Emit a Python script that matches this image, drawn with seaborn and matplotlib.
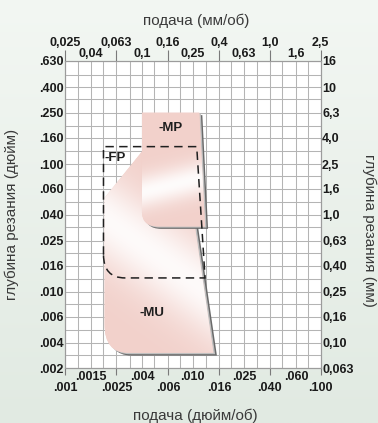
import numpy as np
import matplotlib
matplotlib.use("Agg")
import matplotlib.pyplot as plt
import matplotlib.transforms as mtransforms
import seaborn as sns
from matplotlib.path import Path
from matplotlib.patches import PathPatch
from matplotlib.colors import to_rgb, LinearSegmentedColormap

# ---- scales: feed (mm/rev) and depth of cut (mm), R5 series with inch equivalents ----
feed_mm = [0.025, 0.04, 0.063, 0.1, 0.16, 0.25, 0.4, 0.63, 1.0, 1.6, 2.5]
feed_mm_labels = ["0,025", "0,04", "0,063", "0,1", "0,16", "0,25", "0,4", "0,63", "1,0", "1,6", "2,5"]
feed_in_labels = [".001", ".0015", ".0025", ".004", ".006", ".010", ".016", ".025", ".040", ".060", ".100"]
feed_grid = [0.025, 0.0315, 0.04, 0.05, 0.063, 0.08, 0.1, 0.125, 0.16, 0.2, 0.25, 0.315,
             0.4, 0.5, 0.63, 0.8, 1.0, 1.25, 1.6, 2.0, 2.5]

depth_mm = [0.063, 0.1, 0.16, 0.25, 0.4, 0.63, 1.0, 1.6, 2.5, 4.0, 6.3, 10, 16]
depth_mm_labels = ["0,063", "0,10", "0,16", "0,25", "0,40", "0,63", "1,0", "1,6", "2,5", "4,0", "6,3", "10", "16"]
depth_in_labels = [".002", ".004", ".006", ".010", ".016", ".025", ".040", ".060", ".100", ".160", ".250", ".400", ".630"]
depth_grid = [0.063, 0.08, 0.1, 0.125, 0.16, 0.2, 0.25, 0.315, 0.4, 0.5, 0.63, 0.8, 1.0, 1.25,
              1.6, 2.0, 2.5, 3.15, 4.0, 5.0, 6.3, 8.0, 10, 12.5, 16]

# ---- chipbreaker application areas (feed mm/rev, depth mm) ----
# -MU: outline with rounded lower-left corner
mu_feed = [0.051, 0.1, 0.213, 0.362, 0.0778, 0.051, 0.051]
mu_depth = [1.36, 3.13, 3.13, 0.0833, 0.0833, 0.0833, 0.1386]
# -MP: outline with rounded lower-left corner
mp_feed = [0.1, 0.281, 0.3115, 0.1336, 0.1, 0.1]
mp_depth = [6.3, 6.3, 0.812, 0.812, 0.812, 1.064]
# -FP: dashed outline with rounded lower-left corner
fp_feed = [0.05, 0.05, 0.268, 0.3115, 0.0737, 0.05, 0.05]
fp_depth = [0.488, 3.42, 3.42, 0.321, 0.321, 0.321, 0.488]

area_names = ["-MP", "-FP", "-MU"]
label_feed = [0.169, 0.0615, 0.1205]
label_depth = [4.82, 2.78, 0.171]

sns.set_theme(style="white")
plt.rcParams["font.family"] = ["Liberation Sans", "DejaVu Sans"]

W, H = 378, 423
fig = plt.figure(figsize=(W / 100, H / 100), dpi=100)

# soft green-grey page background
bg = fig.add_axes([0, 0, 1, 1], zorder=-10)
bg_cmap = LinearSegmentedColormap.from_list("bg", ["#e1eae2", "#f3f7f3"])
bg.imshow(np.linspace(0, 1, 256)[:, None], cmap=bg_cmap, aspect="auto",
          extent=[0, 1, 0, 1], origin="lower")
bg.set_axis_off()

x0, x1, y0, y1 = 65, 320.7, 61, 368.3
ax = fig.add_axes([x0 / W, 1 - y1 / H, (x1 - x0) / W, (y1 - y0) / H], zorder=1)
ax.set_facecolor("white")
ax.set_autoscale_on(False)
ax.set_xscale("log")
ax.set_yscale("log")
ax.set_xlim(feed_mm[0], feed_mm[-1])
ax.set_ylim(depth_mm[0], depth_mm[-1])

# grid at every half step
ax.set_xticks(feed_grid)
ax.set_yticks(depth_grid)
ax.minorticks_off()
ax.tick_params(which="both", length=0, labelbottom=False, labelleft=False)
ax.grid(True, color="#b4b4b4", linewidth=0.75)
for s in ax.spines.values():
    s.set_color("#9c9c9c")
    s.set_linewidth(0.8)

pink = np.array(to_rgb("#f2d1cb"))


def area_path(xs, ys, codes):
    return Path(np.column_stack([xs, ys]), codes)


def draw_area(path, z, band_center, band_slope, band_width, strength, bevel):
    # bevel shadows on the right/bottom side
    for (dx, dy), col in [((bevel, -0.8 * bevel), "#6a6a6a"), ((bevel / 2, -0.4 * bevel), "#c0c0c0")]:
        off = ax.transData + mtransforms.ScaledTranslation(dx, dy, fig.dpi_scale_trans)
        ax.add_patch(PathPatch(path, facecolor=col, edgecolor="none", transform=off, zorder=z))
    face = PathPatch(path, facecolor=pink, edgecolor="none", zorder=z + 0.1)
    ax.add_patch(face)
    yy, xx = np.mgrid[0:1:400j, 0:1:400j]
    t = (yy - band_center[1]) - band_slope * (xx - band_center[0])
    w = strength * np.exp(-(t / band_width) ** 2)
    rgb = pink * (1 - w[..., None]) + w[..., None]
    im = ax.imshow(rgb, extent=[0, 1, 0, 1], transform=ax.transAxes, origin="lower",
                   aspect="auto", interpolation="bilinear", zorder=z + 0.2)
    im.set_clip_path(face)


mu_codes = [Path.MOVETO, Path.LINETO, Path.LINETO, Path.LINETO, Path.LINETO, Path.CURVE3, Path.CURVE3]
mp_codes = [Path.MOVETO, Path.LINETO, Path.LINETO, Path.LINETO, Path.CURVE3, Path.CURVE3]
fp_codes = [Path.MOVETO, Path.LINETO, Path.LINETO, Path.LINETO, Path.LINETO, Path.CURVE3, Path.CURVE3]

draw_area(area_path(mu_feed + [mu_feed[0]], mu_depth + [mu_depth[0]], mu_codes + [Path.CLOSEPOLY]),
          2, (0.25, 0.43), -0.6, 0.15, 0.9, 0.035)
draw_area(area_path(mp_feed + [mp_feed[0]], mp_depth + [mp_depth[0]], mp_codes + [Path.CLOSEPOLY]),
          3, (0.37, 0.585), 0.2, 0.055, 0.92, 0.03)

ax.add_patch(PathPatch(area_path(fp_feed, fp_depth, fp_codes), facecolor="none",
                       edgecolor="#1f1f1f", linewidth=1.1, linestyle=(0, (5.5, 3.5)), zorder=5))

for name, fx, dy in zip(area_names, label_feed, label_depth):
    ax.text(fx, dy, name, ha="center", va="center", fontsize=9.5, fontweight="bold",
            color="#1e1e1e", zorder=6)

# ---- staggered tick labels on all four sides ----
tick_col = "#7a7a7a"
lab_kw = dict(fontsize=9, fontweight="bold", color="#1a1a1a")

top = ax.secondary_xaxis("top")
top.set_ticks(feed_mm[0::2], feed_mm_labels[0::2], **lab_kw)
top.set_ticks(feed_mm[1::2], feed_mm_labels[1::2], minor=True, **lab_kw)
top.tick_params(which="major", length=7.8, width=0.8, color=tick_col, pad=0.8)
top.tick_params(which="minor", length=0, pad=0.8)

bot = ax.secondary_xaxis("bottom")
bot.set_ticks(feed_mm[0::2], feed_in_labels[0::2], **lab_kw)
bot.set_ticks(feed_mm[1::2], feed_in_labels[1::2], minor=True, **lab_kw)
bot.tick_params(which="major", length=5, width=0.8, color=tick_col, pad=4.8)
bot.tick_params(which="minor", length=0, pad=1.6)

left = ax.secondary_yaxis("left")
left.set_ticks(depth_mm, depth_in_labels, **lab_kw)
left.set_ticks([], minor=True)
left.tick_params(which="major", length=0, pad=1.2)

right = ax.secondary_yaxis("right")
right.set_ticks(depth_mm, depth_mm_labels, **lab_kw)
right.set_ticks([], minor=True)
right.tick_params(which="major", length=0, pad=1.0)

for sec in (top, bot, left, right):
    for s in sec.spines.values():
        s.set_color("#9c9c9c")
        s.set_linewidth(0.8)

title_kw = dict(fontsize=11, color="#3a3a3a", ha="center", va="center")
fig.text(196.5 / W, 1 - 20.5 / H, "подача (мм/об)", **title_kw)
fig.text(195 / W, 1 - 415.5 / H, "подача (дюйм/об)", **title_kw)
fig.text(12 / W, 1 - 214 / H, "глубина резания (дюйм)", rotation=90, **title_kw)
fig.text(369.5 / W, 1 - 230 / H, "глубина резания (мм)", rotation=270, **title_kw)

fig.savefig("out.png", dpi=100)
